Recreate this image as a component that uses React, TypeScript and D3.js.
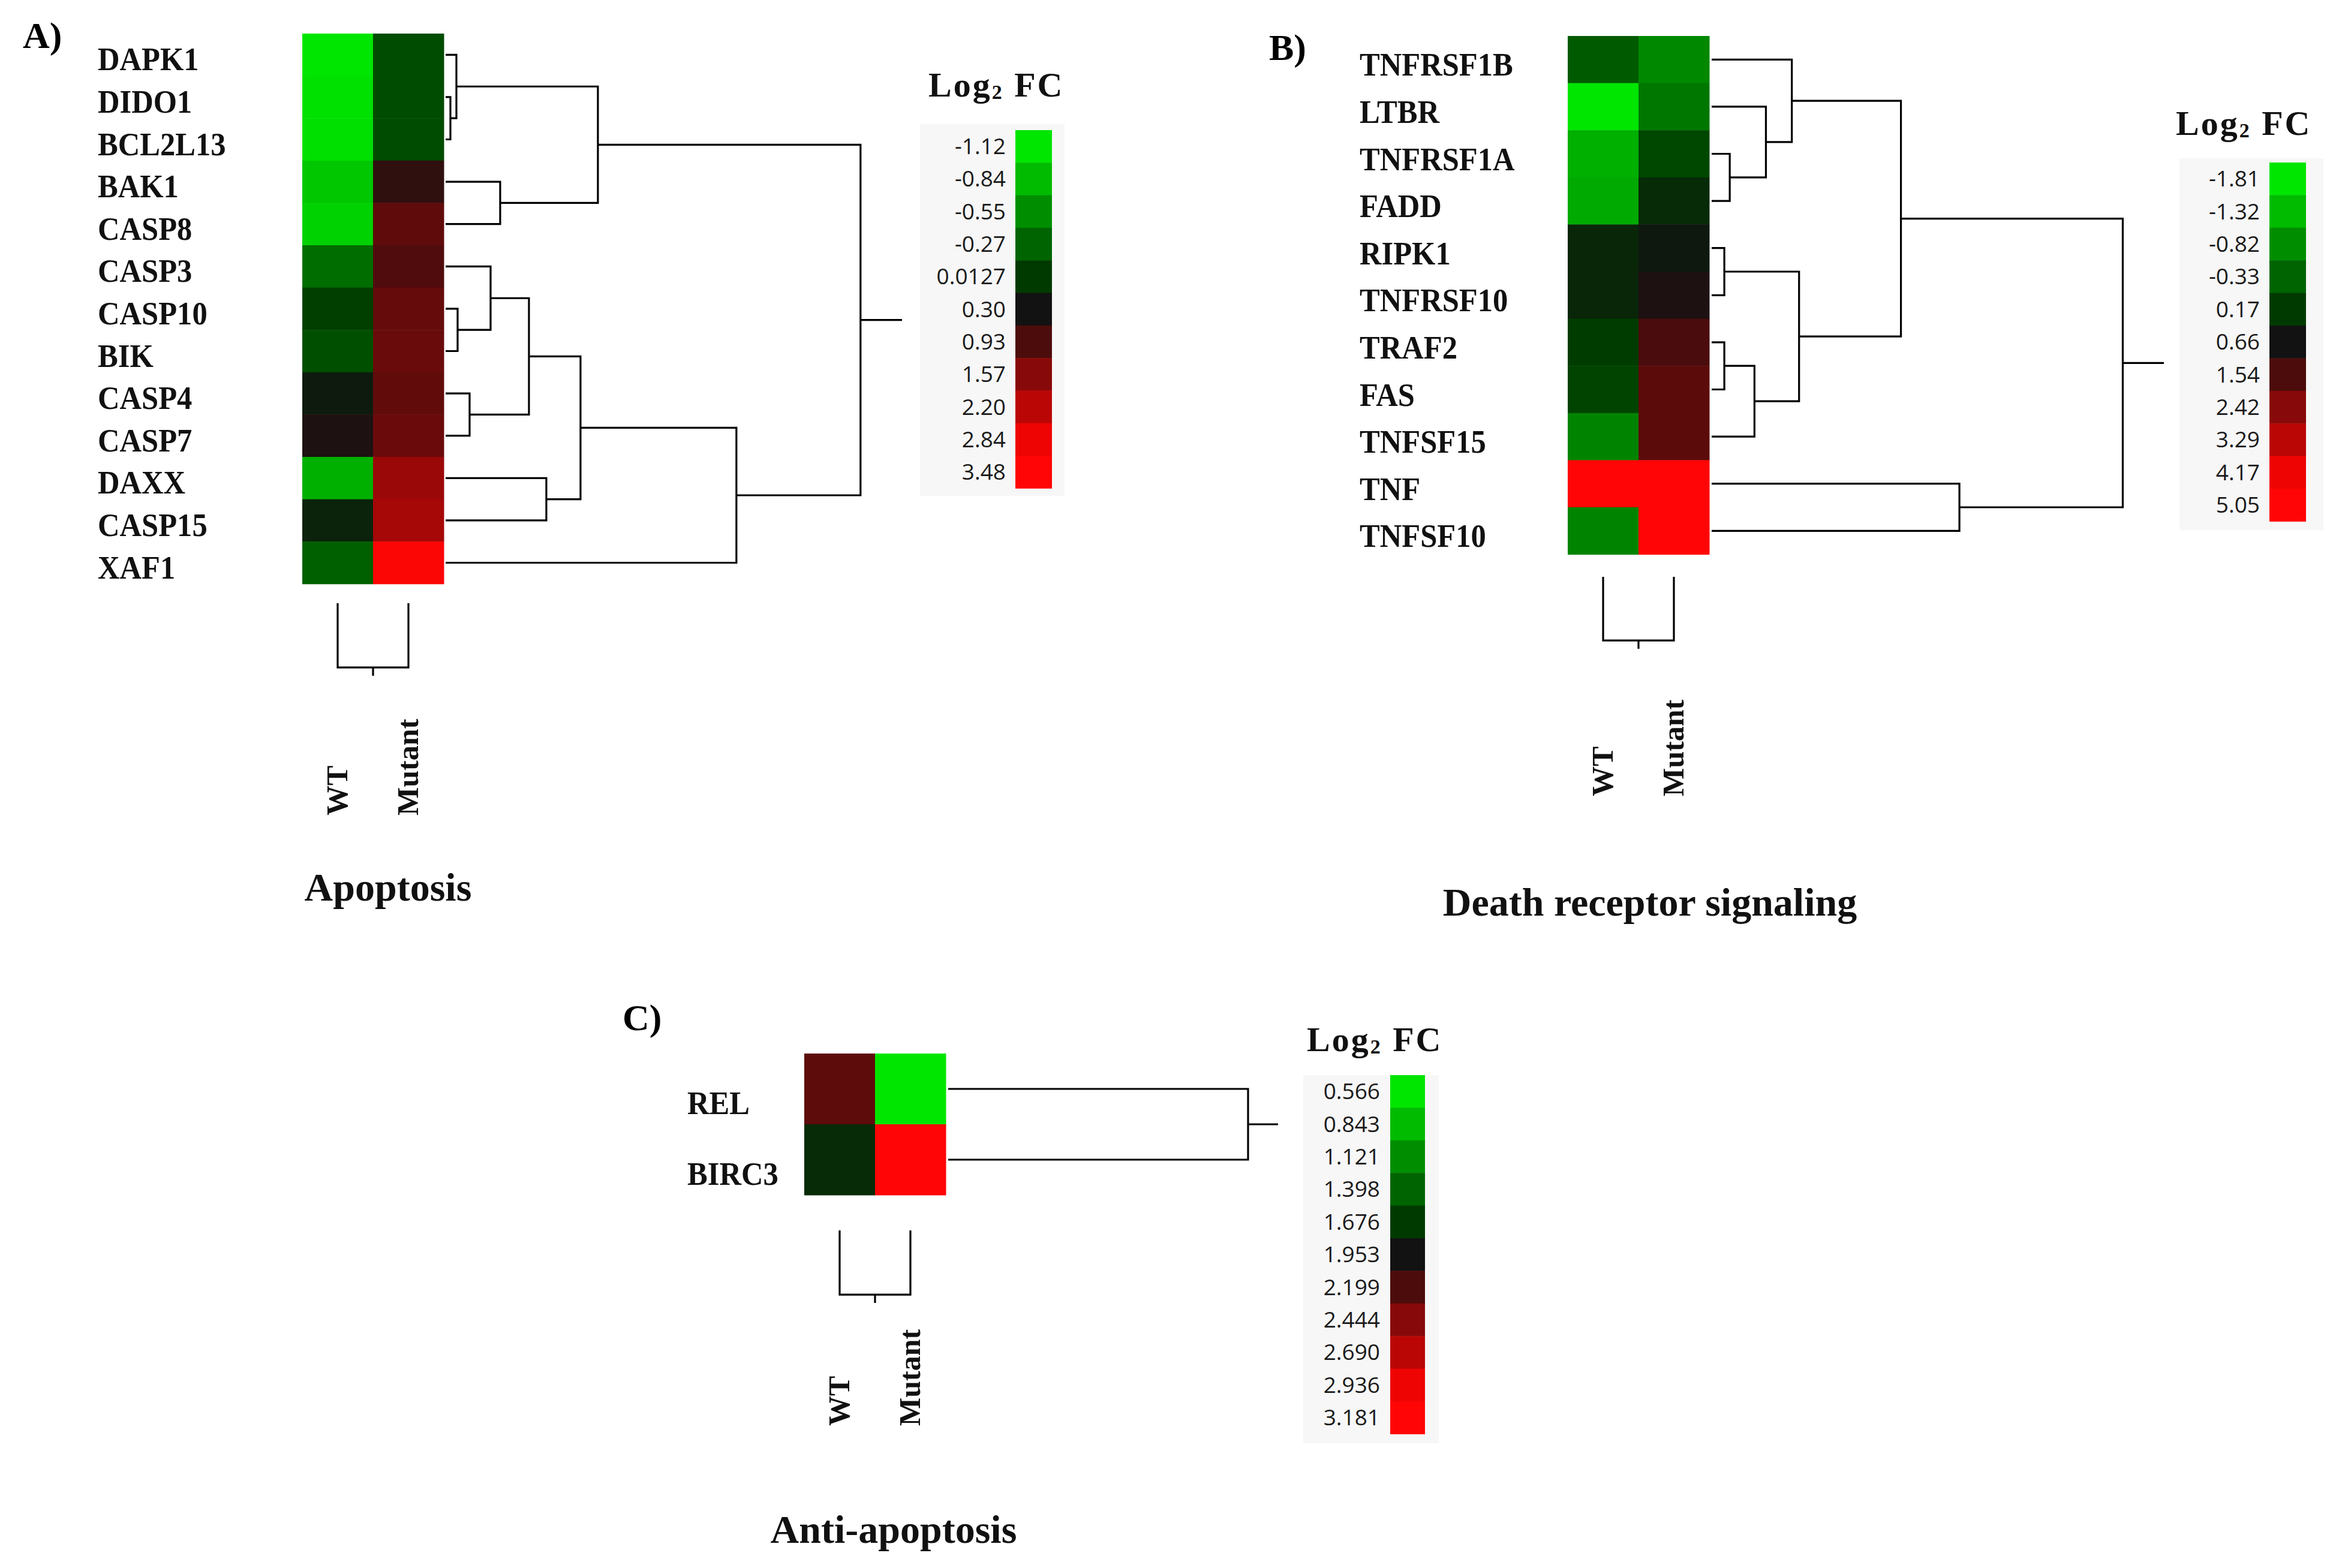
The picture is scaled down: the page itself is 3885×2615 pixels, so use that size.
import React from "react";
import * as d3 from "d3";

// ---------------- DATA ----------------
const samples = ["WT", "Mutant"];

const legendColors = [
  "#00e600", "#00bb00", "#008e00", "#006400", "#003a00", "#121212",
  "#4d0c0c", "#880909", "#bb0606", "#ef0404", "#ff0505",
];

// Panel A: Apoptosis
const apoGenes = ["DAPK1", "DIDO1", "BCL2L13", "BAK1", "CASP8", "CASP3", "CASP10", "BIK", "CASP4", "CASP7", "DAXX", "CASP15", "XAF1"];
const apoWT = [-1.12, -1.09, -1.08, -0.92, -0.98, -0.33, -0.02, -0.13, 0.24, 0.43, -0.77, 0.18, -0.24];
const apoMutant = [-0.11, -0.11, -0.11, 0.62, 1.14, 0.96, 1.19, 1.24, 1.16, 1.26, 1.79, 1.94, 3.3];
const apoLegend = [-1.12, -0.84, -0.55, -0.27, 0.0127, 0.3, 0.93, 1.57, 2.2, 2.84, 3.48];
const apoLegendLabels = ["-1.12", "-0.84", "-0.55", "-0.27", "0.0127", "0.30", "0.93", "1.57", "2.20", "2.84", "3.48"];
// hclust-style merges: negative = leaf (1-based), positive = earlier merge (1-based)
const apoMerge = [[-2, -3], [-1, 1], [-4, -5], [2, 3], [-7, -8], [-6, 5], [-9, -10], [6, 7], [-11, -12], [8, 9], [10, -13], [4, 11]];
const apoHeights = [8, 18, 91, 254, 20, 75, 40, 139, 168, 225, 485, 692];
const apoSampleHeight = [107];

// Panel B: Death receptor signaling
const drGenes = ["TNFRSF1B", "LTBR", "TNFRSF1A", "FADD", "RIPK1", "TNFRSF10", "TRAF2", "FAS", "TNFSF15", "TNF", "TNFSF10"];
const drWT = [-0.21, -1.81, -1.2, -1.13, 0.42, 0.42, 0.15, 0.05, -0.7, 5.05, -0.7];
const drMutant = [-0.75, -0.56, 0.0, 0.37, 0.59, 0.84, 1.5, 1.76, 1.76, 5.05, 5.05];
const drLegend = [-1.81, -1.32, -0.82, -0.33, 0.17, 0.66, 1.54, 2.42, 3.29, 4.17, 5.05];
const drLegendLabels = ["-1.81", "-1.32", "-0.82", "-0.33", "0.17", "0.66", "1.54", "2.42", "3.29", "4.17", "5.05"];
const drMerge = [[-3, -4], [-2, 1], [-1, 2], [-5, -6], [-7, -8], [5, -9], [4, 6], [3, 7], [-10, -11], [8, 9]];
const drHeights = [30, 90, 133, 21, 21, 71, 145, 314, 411, 682];
const drSampleHeight = [106];

// Panel C: Anti-apoptosis
const antiGenes = ["REL", "BIRC3"];
const antiWT = [2.27, 1.79];
const antiMutant = [0.566, 3.181];
const antiLegend = [0.566, 0.843, 1.121, 1.398, 1.676, 1.953, 2.199, 2.444, 2.69, 2.936, 3.181];
const antiLegendLabels = ["0.566", "0.843", "1.121", "1.398", "1.676", "1.953", "2.199", "2.444", "2.690", "2.936", "3.181"];
const antiMerge = [[-1, -2]];
const antiHeights = [497];
const antiSampleHeight = [107];

// ---------------- LAYOUT ----------------
type Layout = {
  letter: string; letterX: number; letterY: number;
  hmX: number; hmY: number; cellW: number; rowH: number;
  labelX: number; labelDy: number;
  leafX: number; dendroW: number;
  colTop: number; colPx: number; sampleBottom: number;
  title: string; titleX: number; titleY: number;
  legX: number; legY: number; legCell: number; legW: number; legLabelX: number;
  legTitleX: number; legTitleY: number;
  bgX: number; bgY: number; bgW: number; bgH: number;
};

const layoutA: Layout = {
  letter: "A)", letterX: 38, letterY: 80,
  hmX: 504, hmY: 56, cellW: 118, rowH: 70.6,
  labelX: 163, labelDy: 26,
  leafX: 743, dendroW: 761,
  colTop: 1006, colPx: 121, sampleBottom: 1360,
  title: "Apoptosis", titleX: 647, titleY: 1502,
  legX: 1693, legY: 217, legCell: 54.3, legW: 61, legLabelX: 1677,
  legTitleX: 1548, legTitleY: 161,
  bgX: 1534, bgY: 207, bgW: 241, bgH: 620,
};
const layoutB: Layout = {
  letter: "B)", letterX: 2116, letterY: 100,
  hmX: 2614, hmY: 60, cellW: 118, rowH: 78.6,
  labelX: 2267, labelDy: 27,
  leafX: 2854, dendroW: 754,
  colTop: 962, colPx: 120, sampleBottom: 1328,
  title: "Death receptor signaling", titleX: 2751, titleY: 1527,
  legX: 3784, legY: 271, legCell: 54.4, legW: 61, legLabelX: 3768,
  legTitleX: 3628, legTitleY: 225,
  bgX: 3634, bgY: 264, bgW: 240, bgH: 620,
};
const layoutC: Layout = {
  letter: "C)", letterX: 1038, letterY: 1718,
  hmX: 1341, hmY: 1757, cellW: 118, rowH: 118,
  labelX: 1146, labelDy: 42,
  leafX: 1581, dendroW: 550,
  colTop: 2052, colPx: 121, sampleBottom: 2378,
  title: "Anti-apoptosis", titleX: 1490, titleY: 2573,
  legX: 2318, legY: 1793, legCell: 54.4, legW: 58, legLabelX: 2301,
  legTitleX: 2179, legTitleY: 1753,
  bgX: 2173, bgY: 1793, bgW: 226, bgH: 614,
};

const SERIF = "'Liberation Serif', 'Times New Roman', serif";
const SANS = "'Open Sans', 'Segoe UI', 'DejaVu Sans', sans-serif";

type PanelProps = {
  genes: string[]; wt: number[]; mut: number[];
  legendValues: number[]; legendLabels: string[];
  merge: number[][]; heights: number[]; sampleHeight: number[];
  L: Layout;
};

function Panel({ genes, wt, mut, legendValues, legendLabels, merge, heights, sampleHeight, L }: PanelProps) {
  const color = d3.scaleLinear<string>()
    .domain(legendValues)
    .range(legendColors)
    .interpolate(d3.interpolateRgb)
    .clamp(true);

  const y = d3.scaleBand().domain(genes).range([L.hmY, L.hmY + L.rowH * genes.length]);
  const x = d3.scaleBand().domain(samples).range([L.hmX, L.hmX + L.cellW * samples.length]);

  // row dendrogram
  const hMax = d3.max(heights) as number;
  const dx = d3.scaleLinear().domain([0, hMax * 1.1]).range([L.leafX, L.leafX + L.dendroW]);
  const nodes: { y: number; h: number }[] = [];
  const pos = (k: number) => (k < 0 ? { y: (y(genes[-k - 1]) as number) + y.bandwidth() / 2, h: 0 } : nodes[k - 1]);
  const paths: string[] = [];
  merge.forEach(([a, b], i) => {
    const A = pos(a);
    const B = pos(b);
    const h = heights[i];
    paths.push(`M${dx(A.h)},${A.y}H${dx(h)}V${B.y}H${dx(B.h)}`);
    nodes.push({ y: (A.y + B.y) / 2, h });
  });
  const root = nodes[nodes.length - 1];
  paths.push(`M${dx(root.h)},${root.y}H${dx(hMax * 1.1)}`);

  // column dendrogram
  const sMax = d3.max(sampleHeight) as number;
  const dy = d3.scaleLinear().domain([0, sMax * 1.13]).range([L.colTop, L.colTop + L.colPx]);
  const cx0 = (x("WT") as number) + x.bandwidth() / 2;
  const cx1 = (x("Mutant") as number) + x.bandwidth() / 2;
  const colPath = `M${cx0},${dy(0)}V${dy(sMax)}H${cx1}V${dy(0)}M${(cx0 + cx1) / 2},${dy(sMax)}V${dy(sMax * 1.13)}`;

  // legend
  const ly = d3.scaleBand().domain(legendLabels).range([L.legY, L.legY + L.legCell * legendLabels.length]);

  const values = [wt, mut];

  return (
    <g>
      <text x={L.letterX} y={L.letterY} fontFamily={SERIF} fontWeight="bold" fontSize={62}>{L.letter}</text>
      {genes.map((g, i) => (
        <g key={g}>
          {samples.map((s, j) => (
            <rect key={s} x={x(s)} y={y(g)} width={x.bandwidth() + 0.5} height={y.bandwidth() + 0.5} fill={color(values[j][i])} />
          ))}
          <text
            transform={`translate(${L.labelX},${(y(g) as number) + y.bandwidth() / 2 + L.labelDy}) scale(0.92,1)`}
            fontFamily={SERIF} fontWeight="bold" fontSize={55} fill="#111"
          >{g}</text>
        </g>
      ))}
      <path d={paths.join("")} fill="none" stroke="#000" strokeWidth={3.2} />
      <path d={colPath} fill="none" stroke="#000" strokeWidth={3.2} />
      {samples.map((s) => (
        <text
          key={s}
          transform={`translate(${(x(s) as number) + x.bandwidth() / 2 + 16},${L.sampleBottom}) rotate(-90)`}
          fontFamily={SERIF} fontWeight="bold" fontSize={50} fill="#111"
        >{s}</text>
      ))}
      <text x={L.titleX} y={L.titleY} textAnchor="middle" fontFamily={SERIF} fontWeight="bold" fontSize={66} fill="#111">{L.title}</text>
      {/* legend */}
      <rect x={L.bgX} y={L.bgY} width={L.bgW} height={L.bgH} fill="#f7f7f7" />
      <text x={L.legTitleX} y={L.legTitleY} fontFamily={SERIF} fontWeight="bold" fontSize={58} fill="#111" letterSpacing={3}>
        Log<tspan fontSize={34} dy={4}>2</tspan><tspan dy={-4}> FC</tspan>
      </text>
      {legendLabels.map((lab, i) => (
        <g key={lab}>
          <rect x={L.legX} y={ly(lab)} width={L.legW} height={ly.bandwidth() + 0.5} fill={color(legendValues[i])} />
          <text x={L.legLabelX} y={(ly(lab) as number) + ly.bandwidth() / 2 + 13} textAnchor="end" fontFamily={SANS} fontSize={37} fill="#1a1a1a">{lab}</text>
        </g>
      ))}
    </g>
  );
}

export default function App() {
  return (
    <svg width={3885} height={2615} style={{ position: "absolute", left: 0, top: 0, background: "#fff" }}>
      <rect width={3885} height={2615} fill="#fff" />
      <Panel genes={apoGenes} wt={apoWT} mut={apoMutant} legendValues={apoLegend} legendLabels={apoLegendLabels}
        merge={apoMerge} heights={apoHeights} sampleHeight={apoSampleHeight} L={layoutA} />
      <Panel genes={drGenes} wt={drWT} mut={drMutant} legendValues={drLegend} legendLabels={drLegendLabels}
        merge={drMerge} heights={drHeights} sampleHeight={drSampleHeight} L={layoutB} />
      <Panel genes={antiGenes} wt={antiWT} mut={antiMutant} legendValues={antiLegend} legendLabels={antiLegendLabels}
        merge={antiMerge} heights={antiHeights} sampleHeight={antiSampleHeight} L={layoutC} />
    </svg>
  );
}
